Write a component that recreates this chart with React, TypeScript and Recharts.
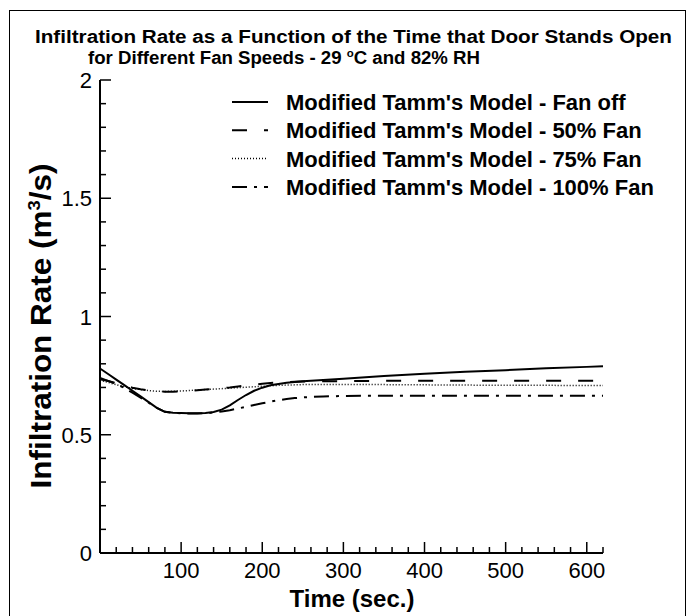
import { LineChart, Line, XAxis, YAxis, Customized } from 'recharts';

const times = [0, 10, 20, 30, 40, 50, 60, 70, 80, 90, 100, 110, 120, 130, 140, 150, 160, 170, 180, 190, 200, 210, 220, 230, 240, 250, 275, 300, 350, 400, 450, 500, 550, 600, 620];
const fanOff = [0.78, 0.757, 0.733, 0.71, 0.686, 0.662, 0.638, 0.614, 0.597, 0.593, 0.592, 0.591, 0.591, 0.592, 0.596, 0.606, 0.624, 0.647, 0.668, 0.686, 0.699, 0.709, 0.715, 0.72, 0.723, 0.726, 0.731, 0.737, 0.748, 0.758, 0.766, 0.773, 0.781, 0.787, 0.79];
const fan50 = [0.735, 0.727, 0.718, 0.708, 0.699, 0.692, 0.687, 0.684, 0.682, 0.682, 0.683, 0.685, 0.688, 0.691, 0.694, 0.697, 0.7, 0.704, 0.708, 0.712, 0.716, 0.719, 0.721, 0.723, 0.724, 0.725, 0.726, 0.727, 0.728, 0.728, 0.728, 0.728, 0.728, 0.728, 0.728];
const fan75 = [0.73, 0.721, 0.712, 0.703, 0.696, 0.691, 0.687, 0.684, 0.683, 0.684, 0.685, 0.687, 0.689, 0.691, 0.693, 0.695, 0.697, 0.699, 0.701, 0.703, 0.705, 0.707, 0.709, 0.71, 0.711, 0.712, 0.713, 0.713, 0.712, 0.711, 0.71, 0.709, 0.709, 0.708, 0.708];
const fan100 = [0.74, 0.728, 0.715, 0.698, 0.678, 0.657, 0.636, 0.614, 0.597, 0.592, 0.591, 0.59, 0.59, 0.591, 0.594, 0.598, 0.604, 0.611, 0.618, 0.626, 0.633, 0.64, 0.646, 0.651, 0.655, 0.658, 0.662, 0.664, 0.665, 0.665, 0.665, 0.665, 0.665, 0.665, 0.665];

const xTicks = [0, 20, 40, 60, 80, 100, 120, 140, 160, 180, 200, 220, 240, 260, 280, 300, 320, 340, 360, 380, 400, 420, 440, 460, 480, 500, 520, 540, 560, 580, 600, 620];
const yTicks = [0, 0.1, 0.2, 0.3, 0.4, 0.5, 0.6, 0.7, 0.8, 0.9, 1, 1.1, 1.2, 1.3, 1.4, 1.5, 1.6, 1.7, 1.8, 1.9, 2];

const seriesNames = [
    "Modified Tamm's Model - Fan off",
    "Modified Tamm's Model - 50% Fan",
    "Modified Tamm's Model - 75% Fan",
    "Modified Tamm's Model - 100% Fan",
];

const data = times.map((t, i) => ({
    t,
    fanOff: fanOff[i],
    fan50: fan50[i],
    fan75: fan75[i],
    fan100: fan100[i],
}));

const FONT = '"Liberation Sans", Arial, Helvetica, sans-serif';

// line styles, shared by the plot and the legend samples
const styles = [
    { key: 'fanOff', dash: undefined, width: 2 },
    { key: 'fan50', dash: '15 17', width: 2 },
    { key: 'fan75', dash: '1 2', width: 1.5 },
    { key: 'fan100', dash: '15 7 3 7', width: 2 },
];

function XTick(props: any) {
    const { x, y, payload } = props;
    const v = payload.value as number;
    const major = v % 100 === 0 && v !== 0;
    return (
        <g>
            <line x1={x} y1={y} x2={x} y2={y - (major ? 11 : 6)} stroke="#000" strokeWidth={1.5} />
            {major && (
                <text x={x} y={y + 25} textAnchor="middle" fontSize={22} fontFamily={FONT} fill="#000">
                    {v}
                </text>
            )}
        </g>
    );
}

function YTick(props: any) {
    const { x, y, payload } = props;
    const v = payload.value as number;
    const major = Math.abs(v * 2 - Math.round(v * 2)) < 1e-6;
    return (
        <g>
            <line x1={x} y1={y} x2={x + (major ? 11 : 6)} y2={y} stroke="#000" strokeWidth={1.5} />
            {major && (
                <text x={x - 8} y={y + 8} textAnchor="end" fontSize={22} fontFamily={FONT} fill="#000">
                    {String(v)}
                </text>
            )}
        </g>
    );
}

function Overlay() {
    return (
        <g fontFamily={FONT} fill="#000">
            <text x={35} y={43} fontSize={18} fontWeight="bold" textLength={637} lengthAdjust="spacingAndGlyphs">
                Infiltration Rate as a Function of the Time that Door Stands Open
            </text>
            <text x={88} y={64} fontSize={18} fontWeight="bold" textLength={392} lengthAdjust="spacingAndGlyphs">
                for Different Fan Speeds - 29 <tspan dy={-7} fontSize={11}>o</tspan>
                <tspan dy={7}>C and 82% RH</tspan>
            </text>

            {seriesNames.map((name, i) => {
                const base = 110 + i * 28.3;
                const s = styles[i];
                return (
                    <g key={name}>
                        <line x1={232} x2={268} y1={base - 8} y2={base - 8} stroke="#000"
                            strokeWidth={s.width} strokeDasharray={s.dash} />
                        <text x={286} y={base} fontSize={22} fontWeight="bold">{name}</text>
                    </g>
                );
            })}

            <text x={352} y={607} fontSize={24} fontWeight="bold" textAnchor="middle">Time (sec.)</text>
            <text transform="translate(51, 326) rotate(-90)" fontSize={29} fontWeight="bold" textAnchor="middle"
                textLength={325} lengthAdjust="spacingAndGlyphs">
                Infiltration Rate (m<tspan dy={-11} fontSize={17}>3</tspan><tspan dy={11}>/s)</tspan>
            </text>
        </g>
    );
}

export default function App() {
    return (
        <div style={{ position: 'absolute', left: 0, top: 0, width: 691, height: 616, background: '#fff', overflow: 'hidden' }}>
            <div style={{ position: 'absolute', left: 9, top: 10, width: 675, height: 640, border: '1.5px solid #000' }} />
            <div style={{ position: 'absolute', left: 0, top: 0 }}>
                <LineChart width={691} height={616} data={data} margin={{ top: 80, right: 88, bottom: 33, left: 0 }}>
                    <XAxis
                        dataKey="t"
                        type="number"
                        domain={[0, 620]}
                        ticks={xTicks}
                        interval={0}
                        height={30}
                        tickSize={0}
                        tickMargin={0}
                        tickLine={false}
                        axisLine={{ stroke: '#000', strokeWidth: 2 }}
                        tick={<XTick />}
                    />
                    <YAxis
                        type="number"
                        domain={[0, 2]}
                        ticks={yTicks}
                        interval={0}
                        width={100}
                        tickSize={0}
                        tickMargin={0}
                        tickLine={false}
                        axisLine={{ stroke: '#000', strokeWidth: 2 }}
                        tick={<YTick />}
                    />
                    {styles.map(s => (
                        <Line
                            key={s.key}
                            dataKey={s.key}
                            type="linear"
                            stroke="#000"
                            strokeWidth={s.width}
                            strokeDasharray={s.dash}
                            dot={false}
                            activeDot={false}
                            isAnimationActive={false}
                        />
                    ))}
                    <Customized component={Overlay} />
                </LineChart>
            </div>
        </div>
    );
}
